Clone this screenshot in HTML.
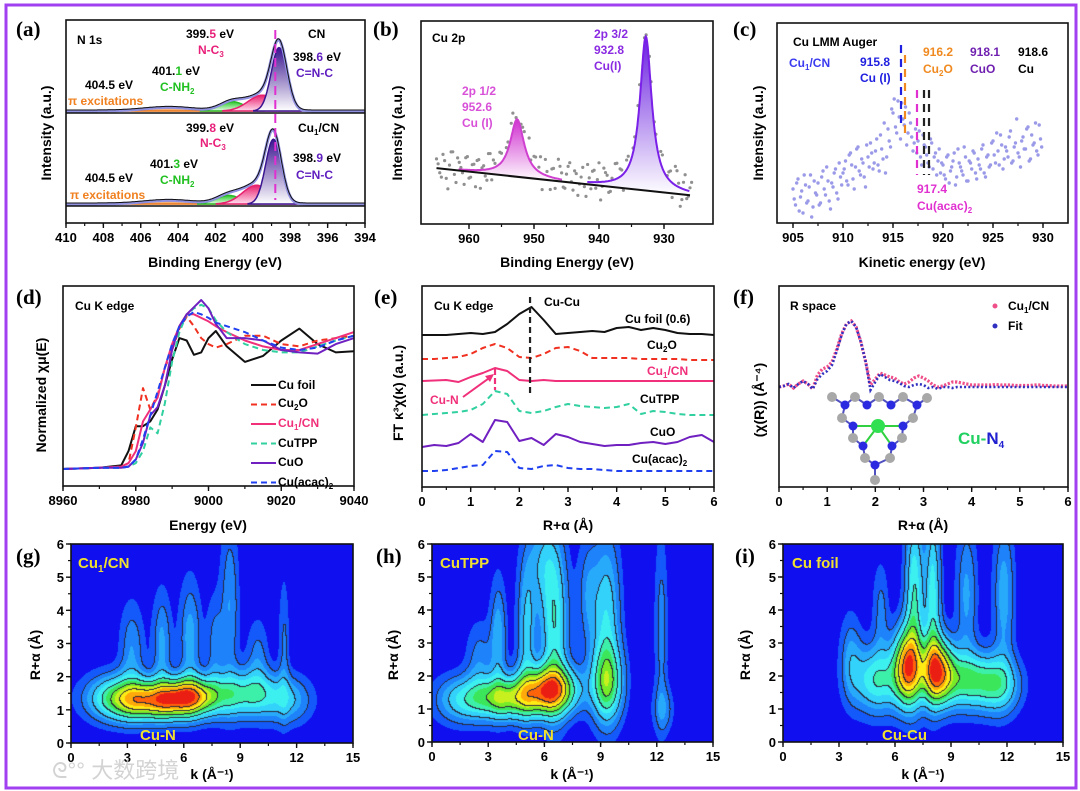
<!DOCTYPE html>
<html><head><meta charset="utf-8"><style>
html,body{margin:0;padding:0;background:#fff;width:1080px;height:791px;overflow:hidden}
#wrap{position:relative;width:1080px;height:791px}
canvas{position:absolute;z-index:0}
svg{position:absolute;left:0;top:0;z-index:1}
text{font-family:"Liberation Sans","Noto Sans CJK SC",sans-serif;font-weight:bold;font-size:12px}
.pl{font-family:"Liberation Serif",serif;font-size:21px}
.tk{font-size:13px;text-anchor:middle}
.ax{font-size:14px;text-anchor:middle}
.yl{font-size:15px;fill:#f0e030}
.sub{font-size:8px}
</style></head><body>
<div id="wrap">
<canvas id="cg" width="282" height="199" style="left:71px;top:544px"></canvas>
<canvas id="ch" width="281" height="198" style="left:432px;top:544px"></canvas>
<canvas id="ci" width="280" height="198" style="left:783px;top:544px"></canvas>
<svg id="fig" width="1080" height="791">
<defs>
<linearGradient id="gPur" x1="0" y1="0" x2="0" y2="1"><stop offset="0" stop-color="#3a1590"/><stop offset="1" stop-color="#fff"/></linearGradient>
<linearGradient id="gPink" x1="0" y1="0" x2="0" y2="1"><stop offset="0" stop-color="#e8206e"/><stop offset="1" stop-color="#fde"/></linearGradient>
<linearGradient id="gGrn" x1="0" y1="0" x2="0" y2="1"><stop offset="0" stop-color="#28c828"/><stop offset="1" stop-color="#e8fde8"/></linearGradient>
<linearGradient id="gOr" x1="0" y1="0" x2="0" y2="1"><stop offset="0" stop-color="#e87010"/><stop offset="1" stop-color="#fde0c0"/></linearGradient>
<linearGradient id="gMag" x1="0" y1="0" x2="0" y2="1"><stop offset="0" stop-color="#d030d0"/><stop offset="1" stop-color="#fff"/></linearGradient>
<linearGradient id="gViol" x1="0" y1="0" x2="0" y2="1"><stop offset="0" stop-color="#6a20e0"/><stop offset="1" stop-color="#fff"/></linearGradient>
</defs>
<rect x="6" y="5" width="1070" height="783" fill="none" stroke="#a040f0" stroke-width="3"/>
<g id="marks"></g>
<g id="labels">
<text class="pl" x="16" y="36">(a)</text>
<text class="pl" x="373" y="36">(b)</text>
<text class="pl" x="733" y="36">(c)</text>
<text class="pl" x="16" y="304">(d)</text>
<text class="pl" x="374" y="304">(e)</text>
<text class="pl" x="733" y="304">(f)</text>
<text class="pl" x="16" y="563">(g)</text>
<text class="pl" x="376" y="563">(h)</text>
<text class="pl" x="735" y="563">(i)</text>

<text class="ax" x="215" y="267">Binding Energy (eV)</text>
<text class="ax" transform="rotate(-90 51 133)" x="51" y="133">Intensity (a.u.)</text>
<text class="ax" x="567" y="267">Binding Energy (eV)</text>
<text class="ax" transform="rotate(-90 402 133)" x="402" y="133">Intensity (a.u.)</text>
<text class="ax" x="922" y="267">Kinetic energy  (eV)</text>
<text class="ax" transform="rotate(-90 763 133)" x="763" y="133">Intensity (a.u.)</text>
<text class="ax" x="208" y="530">Energy (eV)</text>
<text class="ax" transform="rotate(-90 46 395)" x="46" y="395">Normalized χμ(E)</text>
<text class="ax" x="568" y="530">R+α (Å)</text>
<text class="ax" transform="rotate(-90 403 393)" x="403" y="393">FT κ³χ(κ) (a.u.)</text>
<text class="ax" x="923" y="530">R+α (Å)</text>
<text class="ax" transform="rotate(-90 764 400)" x="764" y="400">(χ(R)) (Å⁻⁴)</text>
<text class="ax" x="212" y="779">k (Å⁻¹)</text>
<text class="ax" transform="rotate(-90 40 655)" x="40" y="655">R+α (Å)</text>
<text class="ax" x="572" y="779">k (Å⁻¹)</text>
<text class="ax" transform="rotate(-90 398 655)" x="398" y="655">R+α (Å)</text>
<text class="ax" x="923" y="779">k (Å⁻¹)</text>
<text class="ax" transform="rotate(-90 750 655)" x="750" y="655">R+α (Å)</text>

<!-- panel a annotations -->
<text x="77" y="44">N 1s</text>
<text x="186" y="38">399.<tspan fill="#e8207a">5</tspan> eV</text>
<text x="198" y="54" fill="#e8207a">N-C<tspan class="sub" dy="3">3</tspan></text>
<text x="308" y="38">CN</text>
<text x="293" y="61">398.<tspan fill="#6020c0">6</tspan> eV</text>
<text x="296" y="77" fill="#6020c0">C=N-C</text>
<text x="152" y="75">401.<tspan fill="#20c020">1</tspan> eV</text>
<text x="160" y="91" fill="#20c020">C-NH<tspan class="sub" dy="3">2</tspan></text>
<text x="85" y="89">404.5 eV</text>
<text x="68" y="105" fill="#f08020">π excitations</text>
<text x="186" y="132">399.<tspan fill="#e8207a">8</tspan> eV</text>
<text x="200" y="147" fill="#e8207a">N-C<tspan class="sub" dy="3">3</tspan></text>
<text x="298" y="132">Cu<tspan class="sub" dy="3">1</tspan><tspan dy="-3">/CN</tspan></text>
<text x="293" y="162">398.<tspan fill="#6020c0">9</tspan> eV</text>
<text x="296" y="179" fill="#6020c0">C=N-C</text>
<text x="150" y="168">401.<tspan fill="#20c020">3</tspan> eV</text>
<text x="160" y="184" fill="#20c020">C-NH<tspan class="sub" dy="3">2</tspan></text>
<text x="85" y="182">404.5 eV</text>
<text x="70" y="199" fill="#f08020">π excitations</text>

<!-- panel b -->
<text x="432" y="42">Cu 2p</text>
<text x="594" y="38" fill="#8a2be2">2p 3/2</text>
<text x="594" y="54" fill="#8a2be2">932.8</text>
<text x="594" y="70" fill="#8a2be2">Cu(I)</text>
<text x="462" y="95" fill="#d850d8">2p 1/2</text>
<text x="462" y="111" fill="#d850d8">952.6</text>
<text x="462" y="127" fill="#d850d8">Cu (I)</text>

<!-- panel c -->
<text x="793" y="46">Cu LMM Auger</text>
<text x="789" y="67" fill="#3a3af0">Cu<tspan class="sub" dy="3">1</tspan><tspan dy="-3">/CN</tspan></text>
<text x="860" y="66" fill="#2020e0">915.8</text>
<text x="860" y="82" fill="#2020e0">Cu (I)</text>
<text x="923" y="56" fill="#f08a20">916.2</text>
<text x="923" y="73" fill="#f08a20">Cu<tspan class="sub" dy="3">2</tspan><tspan dy="-3">O</tspan></text>
<text x="970" y="56" fill="#7020b0">918.1</text>
<text x="970" y="73" fill="#7020b0">CuO</text>
<text x="1018" y="56">918.6</text>
<text x="1018" y="73">Cu</text>
<text x="917" y="193" fill="#e030d0">917.4</text>
<text x="917" y="210" fill="#e030d0">Cu(acac)<tspan class="sub" dy="3">2</tspan></text>

<!-- panel d -->
<text x="75" y="310">Cu K edge</text>
<text x="278" y="389">Cu foil</text>
<text x="278" y="407">Cu<tspan class="sub" dy="3">2</tspan><tspan dy="-3">O</tspan></text>
<text x="278" y="427" fill="#f0307a">Cu<tspan class="sub" dy="3">1</tspan><tspan dy="-3">/CN</tspan></text>
<text x="278" y="447">CuTPP</text>
<text x="278" y="466">CuO</text>
<text x="278" y="486">Cu(acac)<tspan class="sub" dy="3">2</tspan></text>

<!-- panel e -->
<text x="434" y="310">Cu K edge</text>
<text x="544" y="306">Cu-Cu</text>
<text x="625" y="323">Cu foil (0.6)</text>
<text x="647" y="349">Cu<tspan class="sub" dy="3">2</tspan><tspan dy="-3">O</tspan></text>
<text x="647" y="375" fill="#f0307a">Cu<tspan class="sub" dy="3">1</tspan><tspan dy="-3">/CN</tspan></text>
<text x="640" y="403">CuTPP</text>
<text x="650" y="436">CuO</text>
<text x="632" y="463">Cu(acac)<tspan class="sub" dy="3">2</tspan></text>
<text x="430" y="404" fill="#f0307a">Cu-N</text>

<!-- panel f -->
<text x="790" y="310">R space</text>
<text x="1008" y="310">Cu<tspan class="sub" dy="3">1</tspan><tspan dy="-3">/CN</tspan></text>
<text x="1008" y="330">Fit</text>
<text x="958" y="444" style="font-size:17px" fill="#20d060">Cu-<tspan fill="#2020d0">N</tspan><tspan fill="#2020d0" style="font-size:10px" dy="4">4</tspan></text>
</g>
<g id="overlay">
<text class="yl" x="78" y="568">Cu<tspan style="font-size:10px" dy="4">1</tspan><tspan dy="-4">/CN</tspan></text>
<text class="yl" x="140" y="740">Cu-N</text>
<text class="yl" x="440" y="568">CuTPP</text>
<text class="yl" x="518" y="740">Cu-N</text>
<text class="yl" x="792" y="568">Cu foil</text>
<text class="yl" x="882" y="740">Cu-Cu</text>
<text x="52" y="778" style="font-size:22px;font-weight:normal" fill="#c8c8c8" opacity="0.8">ᘓ°° 大数跨境</text>
</g>
</svg>
</div>
<script>
// ---------- DATA ----------
const aCompE_CN=[404.5,401.1,399.5,398.6];
const aCompH_CN=[0.05,0.13,0.22,0.88];
const aCompE_Cu=[404.5,401.3,399.8,398.9];
const aCompH_Cu=[0.05,0.12,0.26,0.9];
const aCompSig=[1.3,0.65,0.75,0.42];
const aTicks=[410,408,406,404,402,400,398,396,394];
const bPeakE=[952.6,932.8];
const bPeakA=[0.34,0.91];
const bPeakW=[1.3,1.1];
const bBaseE=[965,926];
const bBaseI=[0.33,0.17];
const bNoise=[.05,-.03,.08,-.06,.02,.1,-.08,.04,-.02,.07,-.05,.03,-.1,.06,.01,-.04,.09,-.07,.02,-.03,
.05,-.09,.04,.08,-.02,-.06,.03,.07,-.1,.01,.06,-.04,.09,-.03,.02,-.08,.05,-.01,.07,-.05,
.03,.1,-.06,.04,-.02,.08,-.09,.02,.06,-.04,.11,-.03,.05,-.07,.01,.09,-.05,.03,-.08,.06,
-.02,.04,.08,-.06,.02,-.1,.05,.03,-.04,.07,-.08,.01,.06,-.03,.09,-.11,.04,-.05,.02];
const bTicks=[960,950,940,930];
const cI1=[.17,.09,.22,.13,.05,.19,.11,.24,.08,.15,.2,.1,.26,.14,.21,.07,.18,.27,.12,.23,
.25,.31,.19,.35,.22,.28,.38,.24,.3,.18,.33,.4,.27,.36,.29,.44,.32,.25,.47,.38,
.55,.48,.61,.42,.52,.58,.45,.5,.36,.47,.41,.33,.44,.38,.3,.42,.27,.35,.31,.25,
.29,.22,.34,.26,.31,.19,.37,.28,.24,.33,.21,.3,.36,.25,.32,.27,.39,.23,.34,.29,
.41,.3,.36,.44,.27,.38,.33,.46,.31,.4,.35,.28,.43,.37,.48,.32,.39,.5,.34,.42];
const cI2=[.12,.2,.06,.16,.24,.1,.18,.03,.21,.14,.09,.23,.17,.28,.11,.2,.25,.15,.3,.19,
.27,.21,.34,.29,.17,.37,.26,.32,.23,.39,.28,.35,.3,.42,.26,.37,.5,.33,.41,.57,
.62,.45,.53,.6,.49,.39,.55,.43,.4,.35,.46,.29,.39,.34,.28,.4,.33,.24,.37,.3,
.24,.33,.2,.28,.35,.23,.3,.26,.38,.21,.31,.27,.35,.22,.29,.37,.25,.33,.28,.4,
.34,.45,.29,.39,.32,.36,.43,.3,.38,.52,.33,.41,.37,.47,.31,.44,.4,.36,.49,.38];
const cMarkE=[915.8,916.2,917.4,918.1,918.6];
const cMarkTop=[0.89,0.84,0.665,0.665,0.665];
const cMarkBot=[0.49,0.43,0.24,0.24,0.24];
const cTicks=[905,910,915,920,925,930];
const dE=[8960,8970,8976,8978,8980,8982,8984,8986,8988,8990,8992,8994,8996,8998,9000,9002,9005,9010,9015,9020,9025,9030,9035,9040];
const dCuFoil=[0,0.01,0.03,0.15,0.36,0.36,0.4,0.5,0.7,0.92,1.1,1.08,0.96,0.98,1.1,1.16,1.03,0.9,0.95,1.08,1.18,1.05,0.98,0.99];
const dCu2O=[0,0.01,0.02,0.05,0.35,0.68,0.5,0.62,0.85,1.0,1.18,1.28,1.2,1.1,1.05,1.02,1.05,1.12,1.12,1.05,1.03,1.08,1.1,1.12];
const dCu1CN=[0,0.01,0.02,0.05,0.15,0.4,0.5,0.6,0.85,1.05,1.2,1.3,1.3,1.27,1.24,1.2,1.15,1.08,1.03,1.0,1.0,1.05,1.1,1.15];
const dCuTPP=[0,0.01,0.01,0.02,0.05,0.15,0.35,0.3,0.55,0.9,1.15,1.3,1.35,1.38,1.35,1.25,1.15,1.05,1.0,0.98,0.98,1.03,1.08,1.12];
const dCuO=[0,0.01,0.01,0.02,0.08,0.22,0.45,0.52,0.7,1.0,1.2,1.3,1.36,1.42,1.35,1.22,1.1,1.1,1.08,1.0,0.98,0.97,1.05,1.1];
const dCuAcac=[0,0.01,0.01,0.02,0.08,0.25,0.45,0.65,0.85,1.05,1.2,1.28,1.32,1.3,1.27,1.23,1.2,1.15,1.08,1.02,1.0,1.02,1.08,1.12];
const dTicks=[8960,8980,9000,9020,9040];
const eR=[0,.25,.5,.75,1,1.25,1.5,1.75,2,2.25,2.5,2.75,3,3.25,3.5,3.75,4,4.25,4.5,4.75,5,5.25,5.5,5.75,6];
const eCuFoil=[15.5,15.5,15.5,15.6,15.7,15.6,15.8,16.6,17.6,18.3,17.0,15.6,15.7,15.8,15.9,15.8,16.2,16.3,16.0,16.2,16.0,15.7,15.6,15.6,15.5];
const eCu2O=[13.1,13.1,13.2,13.3,13.6,14.2,14.6,14.2,13.3,13.2,13.6,14.2,14.3,13.9,13.2,13.2,13.2,13.2,13.1,13.1,13.1,13.1,13.0,13.0,13.0];
const eCu1CN=[10.9,10.95,11.0,10.8,11.3,11.7,12.2,11.9,11.0,10.9,11.0,10.9,10.9,10.9,10.9,10.9,10.9,10.9,10.9,10.9,10.9,10.9,10.9,10.9,10.9];
const eCuTPP=[7.5,7.6,7.7,7.8,8.0,8.6,9.9,9.6,7.9,7.7,7.9,8.3,8.6,8.4,8.3,8.2,8.3,8.6,7.6,7.9,7.8,7.6,7.5,7.5,7.5];
const eCuO=[4.3,4.5,4.4,4.7,5.6,4.8,7.0,6.8,4.9,5.2,4.5,5.6,5.3,4.8,4.6,4.4,4.5,4.5,4.7,4.8,4.6,4.8,5.3,5.5,4.8];
const eCuAcac=[1.9,1.9,2.0,2.2,2.4,2.5,3.9,3.8,2.2,2.1,2.4,2.5,2.2,2.1,2.1,2.0,1.9,1.9,1.9,1.9,1.9,1.9,1.9,1.9,1.9];
const eTicks=[0,1,2,3,4,5,6];
const fR=[0,.1,.2,.3,.4,.5,.6,.7,.8,.9,1,1.1,1.2,1.3,1.4,1.5,1.6,1.7,1.8,1.9,2,2.1,2.2,2.3,2.4,2.5,2.6,2.7,2.8,2.9,3,3.1,3.2,3.3,3.4,3.5,3.6,3.7,3.8,3.9,4,4.1,4.2,4.3,4.4,4.5,4.6,4.7,4.8,4.9,5,5.1,5.2,5.3,5.4,5.5,5.6,5.7,5.8,5.9,6];
const fData=[0,.1,.3,-.1,.3,.6,.3,-.2,1.2,1.8,2.0,2.5,3.8,5.3,6.3,6.6,6.0,4.5,2.5,.2,.8,1.4,1.2,1.0,.9,.5,.3,.5,.9,1.1,.9,.6,.2,0,.1,.3,.5,.5,.4,.3,.2,.2,.2,.2,.2,.25,.2,.2,.2,.15,.15,.15,.15,.2,.2,.15,.15,.1,.1,.1,.1];
const fFit=[0,.1,.3,-.1,.3,.6,.3,-.2,.8,1.3,1.6,2.2,3.6,5.2,6.3,6.6,6.0,4.5,2.5,-.3,.5,1.3,1.0,.7,.6,.4,.1,0,.2,.3,.2,-.1,0,-.2,0,0,-.1,0,0,0,0,0,0,0,0,0,0,0,0,0,0,0,0,0,0,0,0,0,0,0,0];
const fTicks=[0,1,2,3,4,5,6];
const gK=[4.6,6.3,2.5,9.2,11.5,3.2,4.8,6.3,8.4,9.9,11.3,7.6];
const gR=[1.3,1.45,1.4,1.5,1.3,2.8,3.0,3.2,4.2,2.6,3.0,3.0];
const gA=[1.0,0.75,0.5,0.55,0.3,0.25,0.28,0.3,0.25,0.2,0.18,0.2];
const gSk=[1.6,1.0,1.2,1.3,0.9,0.45,0.35,0.4,0.35,0.4,0.2,0.3];
const gSr=[0.4,0.4,0.5,0.5,0.5,1.0,1.1,1.2,1.8,0.8,1.4,1.0];
const hK=[4,6.3,9.3,1.5,12.3,3.5,5.0,6.5,9.3,12.2,5.8,8.3,2.5];
const hR=[1.35,1.6,1.8,1.3,1.0,3.2,3.3,3.5,3.8,3.5,5.5,4.5,2.5];
const hA=[0.75,1.0,0.6,0.35,0.2,0.3,0.35,0.5,0.4,0.2,0.25,0.22,0.2];
const hSk=[1.3,1.0,0.6,1.0,0.4,0.3,0.35,0.5,0.5,0.25,0.6,0.4,0.5];
const hSr=[0.45,0.5,0.8,0.5,0.5,1.2,1.5,1.8,1.8,2.0,1.0,1.2,0.8];
const iK=[6.6,8.2,9.8,5.0,11.5,3.6,7.0,8.0,9.8,11.8,5.2];
const iR=[2.3,2.2,1.9,1.9,1.7,2.6,4.5,4.5,4.5,4.5,4.0];
const iA=[1.0,0.95,0.55,0.5,0.35,0.22,0.5,0.45,0.25,0.28,0.18];
const iSk=[0.5,0.6,1.3,0.9,0.8,0.4,0.35,0.3,0.4,0.4,0.3];
const iSr=[0.8,0.7,0.6,0.7,0.6,0.9,1.8,1.8,1.5,1.6,1.0];
const wkTicks=[0,3,6,9,12,15];
const wrTicks=[0,1,2,3,4,5,6];

// ---------- HELPERS ----------
const NS='http://www.w3.org/2000/svg';
const marks=document.getElementById('marks');
function mk(tag,attrs,name){
  const e=document.createElementNS(NS,tag);
  for(const k in attrs) e.setAttribute(k,attrs[k]);
  
  
  marks.appendChild(e);
  return e;
}
function lin(d0,d1,r0,r1){return v=>r0+(v-d0)*(r1-r0)/(d1-d0);}
function box(b,name){mk('rect',{x:b.x0,y:b.y0,width:b.x1-b.x0,height:b.y1-b.y0,fill:'none',stroke:'#111','stroke-width':1.6},name);}
function xAxis(b,sx,ticks,minorStep,p){
  const lo=Math.min(ticks[0],ticks[ticks.length-1]),hi=Math.max(ticks[0],ticks[ticks.length-1]);
  for(let v=lo;v<=hi+1e-9;v+=minorStep){
    const x=sx(v); if(x<b.x0-1||x>b.x1+1)continue;
    mk('line',{x1:x,x2:x,y1:b.y1,y2:b.y1+3,stroke:'#111','stroke-width':1.2},p+'-x-minor-tick');
  }
  ticks.forEach(t=>{
    const x=sx(t);
    mk('line',{x1:x,x2:x,y1:b.y1,y2:b.y1+5,stroke:'#111','stroke-width':1.4},p+'-x-tick');
    const tx=mk('text',{x:x,y:b.y1+19,class:'tk'},p+'-x-tick-label');
    tx.textContent=t;
  });
}
function yAxis(b,sy,ticks,minorStep,p){
  for(let v=ticks[0];v<=ticks[ticks.length-1]+1e-9;v+=minorStep){
    mk('line',{x1:b.x0,x2:b.x0-3,y1:sy(v),y2:sy(v),stroke:'#111','stroke-width':1.2},p+'-y-minor-tick');
  }
  ticks.forEach(t=>{
    mk('line',{x1:b.x0,x2:b.x0-5,y1:sy(t),y2:sy(t),stroke:'#111','stroke-width':1.4},p+'-y-tick');
    const tx=mk('text',{x:b.x0-7,y:sy(t)+5,class:'tk',style:'text-anchor:end'},p+'-y-tick-label');
    tx.textContent=t;
  });
}
function pathFrom(xs,ys){return xs.map((x,i)=>(i?'L':'M')+x.toFixed(1)+' '+ys[i].toFixed(1)).join(' ');}
const gauss=(x,c,s)=>Math.exp(-(x-c)*(x-c)/(2*s*s));

// ---------- (a) ----------
{
  const b={x0:66,x1:365,y0:20,y1:223};
  const sx=lin(410,394,b.x0,b.x1);
  const unit=72;
  const grid=[];for(let e=410;e>=394-1e-9;e-=0.05)grid.push(e);
  const comps=[['url(#gOr)','#e87010'],['url(#gGrn)','#28b828'],['url(#gPink)','#e8206e'],['url(#gPur)','#3a1590']];
  [[aCompE_CN,aCompH_CN,111,'cn'],[aCompE_Cu,aCompH_Cu,204,'cu1cn']].forEach(([E,H,base,tag])=>{
    E.forEach((c,i)=>{
      const xs=[],ys=[];
      grid.forEach(e=>{const v=H[i]*gauss(e,c,aCompSig[i]);if(v>0.004){xs.push(sx(e));ys.push(base-v*unit);}});
      const d=pathFrom(xs,ys)+` L${xs[xs.length-1]} ${base} L${xs[0]} ${base} Z`;
      mk('path',{d:d,fill:comps[i][0],stroke:comps[i][1],'stroke-width':1.5},'a-'+tag+'-component-'+i);
    });
    const xs=[],ys=[];
    grid.forEach(e=>{let v=0;E.forEach((c,i)=>v+=H[i]*gauss(e,c,aCompSig[i]));xs.push(sx(e));ys.push(base-v*unit);});
    mk('path',{d:pathFrom(xs,ys),fill:'none',stroke:'#9090e0','stroke-width':3},'a-'+tag+'-envelope');
    mk('path',{d:pathFrom(xs,ys.map(y=>y-1)),fill:'none',stroke:'#111','stroke-width':1},'a-'+tag+'-data-line');
  });
  mk('line',{x1:b.x0,x2:b.x1,y1:113,y2:113,stroke:'#111','stroke-width':1.6},'a-divider');
  mk('line',{x1:b.x0,x2:b.x1,y1:206,y2:206,stroke:'#111','stroke-width':1.6},'a-lower-baseline');
  mk('line',{x1:sx(398.8),x2:sx(398.8),y1:30,y2:200,stroke:'#e030d0','stroke-width':2,'stroke-dasharray':'9 5'},'a-peak-shift-line');
  box(b,'a-plot-frame');
  xAxis(b,sx,aTicks,1,'a');
}
// ---------- (b) ----------
{
  const b={x0:421,x1:713,y0:21,y1:224};
  const sx=lin(960,930,469,664), sy=lin(0,1.2,224,21);
  const base=e=>bBaseI[0]+(e-bBaseE[0])*(bBaseI[1]-bBaseI[0])/(bBaseE[1]-bBaseE[0]);
  const lor=(e,i)=>bPeakA[i]/(1+((e-bPeakE[i])/bPeakW[i])**2);
  const env=e=>base(e)+lor(e,0)+lor(e,1);
  const pts=[];for(let k=0;k<bNoise.length;k++)pts.push(965-k*0.5);
  pts.forEach((e,k)=>{
    mk('circle',{cx:sx(e),cy:sy(env(e)+bNoise[k]),r:1.6,fill:'#909090'},'b-data-point');
    const e2=e-0.25,n2=bNoise[bNoise.length-1-k];
    mk('circle',{cx:sx(e2),cy:sy(env(e2)+n2*1.1),r:1.6,fill:'#909090'},'b-data-point');
  });
  const fills=['url(#gMag)','url(#gViol)'],strokes=['#d040d0','#7a20e8'];
  [0,1].forEach(i=>{
    const xs=[],ys=[],bx=[],by=[];
    for(let e=bPeakE[i]+9;e>=bPeakE[i]-7;e-=0.1){if(e>965||e<926)continue;xs.push(sx(e));ys.push(sy(base(e)+lor(e,i)));bx.push(sx(e));by.push(sy(base(e)));}
    let d=pathFrom(xs,ys);for(let j=bx.length-1;j>=0;j--)d+=` L${bx[j].toFixed(1)} ${by[j].toFixed(1)}`;
    mk('path',{d:d+'Z',fill:fills[i],stroke:'none'},'b-peak-fill-'+i);
    mk('path',{d:pathFrom(xs,ys),fill:'none',stroke:strokes[i],'stroke-width':2},'b-peak-fit-'+i);
  });
  mk('line',{x1:sx(bBaseE[0]),y1:sy(bBaseI[0]),x2:sx(bBaseE[1]),y2:sy(bBaseI[1]),stroke:'#111','stroke-width':2},'b-background-line');
  box(b,'b-plot-frame');
  xAxis(b,sx,bTicks,5,'b');
}
// ---------- (c) ----------
{
  const b={x0:777,x1:1068,y0:23,y1:223};
  const sx=lin(905,930,793,1043), sy=lin(0,1,223,23);
  cI1.forEach((v,k)=>mk('circle',{cx:sx(905+k*0.25),cy:sy(v),r:1.7,fill:'#9a9ae8'},'c-data-point'));
  cI2.forEach((v,k)=>mk('circle',{cx:sx(905.12+k*0.25),cy:sy(v),r:1.7,fill:'#9a9ae8'},'c-data-point'));
  const cols=['#2020e0','#f08a20','#e030d0','#222','#222'];
  cMarkE.forEach((e,i)=>mk('line',{x1:sx(e),x2:sx(e),y1:sy(cMarkTop[i]),y2:sy(cMarkBot[i]),stroke:cols[i],'stroke-width':2.2,'stroke-dasharray':'8 6'},'c-reference-marker'));
  box(b,'c-plot-frame');
  xAxis(b,sx,cTicks,2.5,'c');
}
// ---------- (d) ----------
{
  const b={x0:63,x1:354,y0:286,y1:486};
  const sx=lin(8960,9040,b.x0,b.x1), sy=lin(0,1,469,350);
  const ser=[[dCuFoil,'#111',''],[dCu2O,'#f03020','6 4'],[dCu1CN,'#f0307a',''],[dCuTPP,'#30d0a0','6 4'],[dCuO,'#7020c0',''],[dCuAcac,'#2040f0','6 4']];
  const names=['cu-foil','cu2o','cu1cn','cutpp','cuo','cuacac'];
  ser.forEach(([v,c,da],i)=>{
    mk('path',{d:pathFrom(dE.map(sx),v.map(sy)),fill:'none',stroke:c,'stroke-width':2,'stroke-dasharray':da,'stroke-linejoin':'round'},'d-series-'+names[i]);
    const ly=385+i*19.5;
    mk('line',{x1:251,x2:276,y1:ly,y2:ly,stroke:c,'stroke-width':2,'stroke-dasharray':da},'d-legend-swatch-'+names[i]);
  });
  box(b,'d-plot-frame');
  xAxis(b,sx,dTicks,10,'d');
}
// ---------- (e) ----------
{
  const b={x0:422,x1:714,y0:286,y1:487};
  const sx=lin(0,6,b.x0,b.x1), sy=v=>490-v*10;
  const ser=[[eCuFoil,'#111',''],[eCu2O,'#f03020','6 4'],[eCu1CN,'#f0307a',''],[eCuTPP,'#30d0a0','6 4'],[eCuO,'#7020c0',''],[eCuAcac,'#2040f0','6 4']];
  const names=['cu-foil','cu2o','cu1cn','cutpp','cuo','cuacac'];
  ser.forEach(([v,c,da],i)=>mk('path',{d:pathFrom(eR.map(sx),v.map(sy)),fill:'none',stroke:c,'stroke-width':2,'stroke-dasharray':da,'stroke-linejoin':'round'},'e-series-'+names[i]));
  mk('line',{x1:sx(2.22),x2:sx(2.22),y1:297,y2:395,stroke:'#222','stroke-width':2.2,'stroke-dasharray':'6 4'},'e-cu-cu-line');
  mk('line',{x1:sx(1.5),x2:sx(1.5),y1:369,y2:390,stroke:'#f0307a','stroke-width':2.2,'stroke-dasharray':'6 3'},'e-cu-n-line');
  mk('path',{d:`M463 397 L${sx(1.5)-3} 376`,stroke:'#f0307a','stroke-width':2,fill:'none'},'e-cu-n-arrow');
  mk('path',{d:`M${sx(1.5)-1} 374 l-9 2 l5 6 z`,fill:'#f0307a'},'e-cu-n-arrowhead');
  box(b,'e-plot-frame');
  xAxis(b,sx,eTicks,0.5,'e');
}
// ---------- (f) ----------
{
  const b={x0:779,x1:1068,y0:286,y1:487};
  const sx=lin(0,6,b.x0,b.x1), sy=v=>387-v*10;
  mk('path',{d:pathFrom(fR.map(sx),fData.map(sy)),fill:'none',stroke:'#f0508a','stroke-width':3.2,'stroke-dasharray':'2.2 1.6'},'f-data-series');
  mk('path',{d:pathFrom(fR.map(sx),fFit.map(sy)),fill:'none',stroke:'#3030c0','stroke-width':2.6,'stroke-dasharray':'2 2.2'},'f-fit-series');
  mk('circle',{cx:995,cy:306,r:2.5,fill:'#f0508a'},'f-legend-data-marker');
  mk('circle',{cx:995,cy:326,r:2.5,fill:'#3030c0'},'f-legend-fit-marker');
  const dy=3;
  const bonds=[[832,394,845,402],[845,402,855,394],[855,394,867,402],[867,402,879,394],[879,394,891,402],[891,402,903,394],[903,394,917,402],[917,402,927,395],[845,402,842,415],[917,402,913,415],[842,415,853,423],[913,415,903,423],[853,423,853,435],[903,423,902,435],[853,435,863,443],[902,435,892,443],[863,443,865,455],[892,443,890,455],[865,455,875,462],[890,455,875,462],[875,462,875,477],[878,423,853,423],[878,423,903,423],[878,423,863,443],[878,423,892,443]];
  bonds.forEach(q=>mk('line',{x1:q[0],y1:q[1]+dy,x2:q[2],y2:q[3]+dy,stroke:q[0]===878?'#30d040':'#5050c0','stroke-width':2},'f-molecule-bond'));
  [[832,394],[855,394],[879,394],[903,394],[927,395],[842,415],[913,415],[853,435],[902,435],[865,455],[890,455],[875,477]].forEach(p=>mk('circle',{cx:p[0],cy:p[1]+dy,r:5,fill:'#a8a8a8'},'f-carbon-atom'));
  [[845,402],[867,402],[891,402],[917,402],[853,423],[903,423],[863,443],[892,443],[875,462]].forEach(p=>mk('circle',{cx:p[0],cy:p[1]+dy,r:4.5,fill:'#2a2ae0'},'f-nitrogen-atom'));
  mk('circle',{cx:878,cy:423+dy,r:7,fill:'#30e050'},'f-copper-atom');
  box(b,'f-plot-frame');
  xAxis(b,sx,fTicks,0.5,'f');
}
// ---------- (g-i) wavelet maps ----------
const thr=[0.05,0.11,0.17,0.23,0.3,0.37,0.44,0.51,0.58,0.65,0.73,0.81,0.89];
const cols=[[20,90,250],[30,130,250],[40,170,250],[50,210,250],[60,240,240],[60,240,170],[60,230,90],[120,235,40],[200,240,30],[255,235,20],[255,170,10],[255,100,10],[235,30,20]];
function wavelet(id,K,R,A,SK,SR){
  const cv=document.getElementById(id),ctx=cv.getContext('2d'),w=cv.width,h=cv.height;
  const f=new Float32Array(w*h);let mx=0;
  for(let y=0;y<h;y++)for(let x=0;x<w;x++){
    const k=x/w*15,r=(1-y/h)*6;let s=0;
    for(let i=0;i<K.length;i++)s+=A[i]*Math.exp(-((k-K[i])**2/(2*SK[i]*SK[i])+(r-R[i])**2/(2*SR[i]*SR[i])));
    f[y*w+x]=s;if(s>mx)mx=s;
  }
  const lv=new Int8Array(w*h);
  for(let j=0;j<w*h;j++){const v=f[j]/mx;let l=-1;for(let t=0;t<thr.length;t++)if(v>=thr[t])l=t;lv[j]=l;}
  const img=ctx.createImageData(w,h);
  for(let y=0;y<h;y++)for(let x=0;x<w;x++){
    const j=y*w+x,l=lv[j];let c=l<0?[15,15,240]:cols[l];
    const left=x>0?lv[j-1]:l,up=y>0?lv[j-w]:l;
    const m=Math.max(l,left,up),mn=Math.min(l,left,up);
    if(m!==mn&&m>=1&&m%2===1)c=[40,40,60];
    img.data[j*4]=c[0];img.data[j*4+1]=c[1];img.data[j*4+2]=c[2];img.data[j*4+3]=255;
  }
  ctx.putImageData(img,0,0);
}
wavelet('cg',gK,gR,gA,gSk,gSr);
wavelet('ch',hK,hR,hA,hSk,hSr);
wavelet('ci',iK,iR,iA,iSk,iSr);
[['g',{x0:71,x1:353,y0:544,y1:743}],['h',{x0:432,x1:713,y0:544,y1:742}],['i',{x0:783,x1:1063,y0:544,y1:742}]].forEach(([p,b])=>{
  const sx=lin(0,15,b.x0,b.x1),sy=lin(0,6,b.y1,b.y0);
  box(b,p+'-plot-frame');
  xAxis(b,sx,wkTicks,1.5,p);
  yAxis(b,sy,wrTicks,0.5,p);
});
</script>
</body></html>
